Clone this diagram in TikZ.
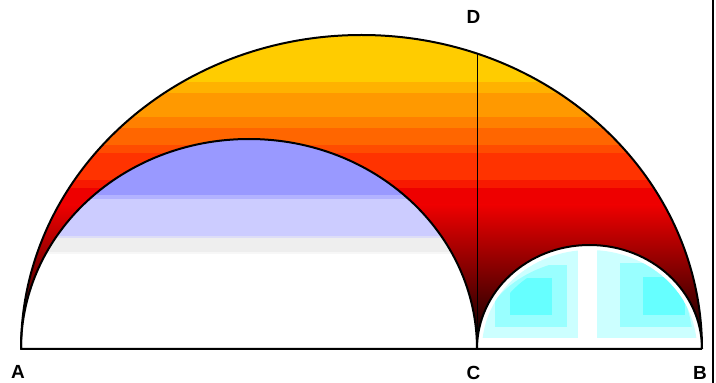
\documentclass[tikz,border=0pt]{standalone}
\usepackage{fontspec}
\setmainfont{Liberation Sans}
\usepackage{tikz}
\usetikzlibrary{calc}

\definecolor{bandyellow}{HTML}{FFCC00}
\definecolor{bandorange}{HTML}{FF9900}
\definecolor{banddeep}{HTML}{FF6600}
\definecolor{bandscarlet}{HTML}{FF3300}
\definecolor{bandred}{HTML}{EE0000}
\definecolor{lilacdark}{HTML}{9999FF}
\definecolor{lilaclight}{HTML}{CCCCFF}
\definecolor{palegray}{HTML}{EEEEEE}
\definecolor{cyanpale}{HTML}{CCFFFF}
\definecolor{cyanmid}{HTML}{99FFFF}
\definecolor{cyandeep}{HTML}{66FFFF}

\tikzset{
  outline/.style={line width=2pt, line join=round},
  ptlabel/.style={font=\fontsize{19}{23}\selectfont\bfseries, inner sep=0pt},
}

\begin{document}
\begin{tikzpicture}[x=1pt, y=1pt]
        \useasboundingbox (0,-34) rectangle (716,349);

        % Points
        \coordinate (A) at (21,0);
        \coordinate (C) at (477,0);
        \coordinate (B) at (702,0);
        \coordinate (D) at (477,295.4);
        \coordinate (frametop) at (713,349);
        \coordinate (framebot) at (713,-34);

        % Colour bands of the arbelos
        \begin{scope}
          \clip (A) arc[start angle=180, end angle=0, x radius=340.5, y radius=314] -- cycle;
          \foreach \col/\lo/\hi in {bandyellow/267/349, bandyellow!50!bandorange/256/267,
              bandorange/232/256, bandorange!50!banddeep/221/232, banddeep/204/221,
              banddeep!50!bandscarlet/196/204, bandscarlet/169/196,
              bandscarlet!50!bandred/161/169, bandred/144/161}
            \fill[\col] (0,\lo) rectangle (716,\hi);
          \shade[top color=bandred, bottom color=black] (0,0) rectangle (716,144);
        \end{scope}

        % Left semicircle
        \begin{scope}
          \clip (A) arc[start angle=180, end angle=0, x radius=228, y radius=210] -- cycle;
          \fill[white] (0,0) rectangle (500,349);
          \foreach \col/\lo/\hi in {lilacdark/154/349, lilacdark!50!lilaclight/150/154,
              lilaclight/113/150, lilaclight!50!palegray/111/113, palegray/97/111,
              palegray!50!white/95/97}
            \fill[\col] (0,\lo) rectangle (500,\hi);
        \end{scope}

        % Right semicircle
        \begin{scope}
          \clip (C) arc[start angle=180, end angle=0, x radius=112.5, y radius=104] -- cycle;
          \fill[white] (470,0) rectangle (710,110);
          \begin{scope}
            \clip (589.5,0) ellipse [x radius=107.5, y radius=99];
            \fill[cyanpale] (470,11) rectangle (710,110);
            \begin{scope}
              \clip (589.5,0) ellipse [x radius=112, y radius=90];
              \fill[cyanmid] (495,22) rectangle (567,84);
            \end{scope}
            \begin{scope}
              \clip (589.5,0) ellipse [x radius=101.5, y radius=90];
              \fill[cyandeep] (510,34) rectangle (552,71);
            \end{scope}
            \begin{scope}
              \clip (589.5,0) ellipse [x radius=104, y radius=120];
              \fill[cyanmid] (620,22) rectangle (700,86);
            \end{scope}
            \begin{scope}
              \clip (589.5,0) ellipse [x radius=107, y radius=104.5];
              \fill[cyandeep] (643,34) rectangle (685,72);
            \end{scope}
          \end{scope}
          \fill[white] (578,0) rectangle (597,110);
        \end{scope}

        % Outlines
        \draw[outline] (B) -- (A) arc[start angle=180, end angle=0, x radius=340.5, y radius=314];
        \draw[outline] (A) arc[start angle=180, end angle=0, x radius=228, y radius=210];
        \draw[outline] (C) arc[start angle=180, end angle=0, x radius=112.5, y radius=104];
        \draw[line width=1pt] (C) -- (D);
        \draw[line width=1.5pt] (framebot) -- (frametop);

        % Labels
        \node[ptlabel] (labA) at (18,-23) {A};
        \node[ptlabel] (labC) at (473.5,-23.5) {C};
        \node[ptlabel] (labB) at (700,-23.5) {B};
        \node[ptlabel] (labD) at (473.5,332.5) {D};
\end{tikzpicture}
\end{document}
